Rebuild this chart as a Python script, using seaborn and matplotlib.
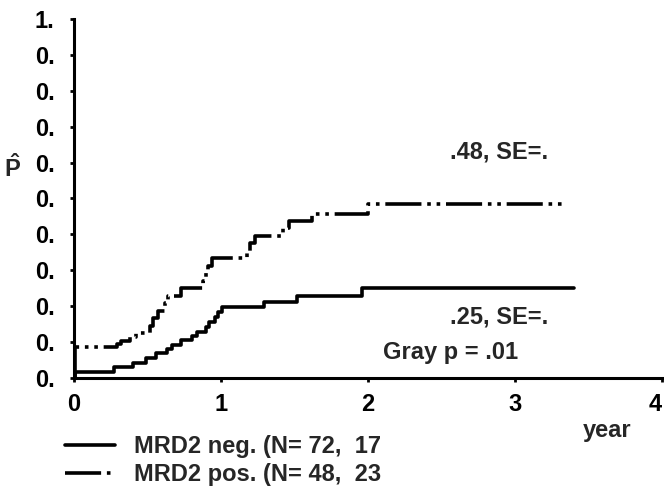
import numpy as np
import pandas as pd
import seaborn as sns
import matplotlib
matplotlib.use("Agg")
import matplotlib.pyplot as plt

# step-curve data (time in years, cumulative incidence)
neg_t = [0.0, 0.01, 0.27, 0.40, 0.49, 0.56, 0.63, 0.67, 0.73, 0.80, 0.84, 0.90, 0.92, 0.96, 0.98, 1.01, 1.29, 1.52, 1.96, 3.40]
neg_p = [0.0, 0.017, 0.031, 0.043, 0.056, 0.070, 0.081, 0.092, 0.106, 0.117, 0.128, 0.142, 0.156, 0.170, 0.185, 0.199, 0.213, 0.228, 0.250, 0.250]
pos_t = [0.0, 0.01, 0.29, 0.32, 0.38, 0.42, 0.52, 0.54, 0.57, 0.62, 0.64, 0.73, 0.88, 0.90, 0.91, 0.94, 1.18, 1.20, 1.23, 1.42, 1.46, 1.62, 2.00, 3.33]
pos_p = [0.0, 0.086, 0.094, 0.104, 0.115, 0.125, 0.146, 0.167, 0.188, 0.208, 0.229, 0.250, 0.271, 0.292, 0.313, 0.333, 0.354, 0.375, 0.396, 0.417, 0.438, 0.458, 0.484, 0.484]

labels = ["MRD2 neg. (N= 72,  17", "MRD2 pos. (N= 48,  23"]
ytick_labels = ["0.", "0.", "0.", "0.", "0.", "0.", "0.", "0.", "0.", "0.", "1."]
xtick_labels = ["0", "1", "2", "3", "4"]

df = pd.concat([
    pd.DataFrame({"t": neg_t, "p": neg_p, "grp": labels[0]}),
    pd.DataFrame({"t": pos_t, "p": pos_p, "grp": labels[1]}),
])

sns.set_style("ticks")
plt.rcParams["font.family"] = ["Liberation Sans", "DejaVu Sans"]
plt.rcParams["font.weight"] = "bold"
plt.rcParams["mathtext.fontset"] = "custom"
plt.rcParams["mathtext.bf"] = "Liberation Sans:bold"
plt.rcParams["mathtext.rm"] = "Liberation Sans:bold"
FS = 17

fig = plt.figure(figsize=(6.64, 4.92), dpi=100)
ax = fig.add_axes([0.1114, 0.2317, 0.8855, 0.7297])

sns.lineplot(data=df, x="t", y="p", style="grp", hue="grp",
             palette=["black", "black"],
             dashes={labels[0]: "", labels[1]: (10, 1.6, 1, 1.6, 1, 1.6)},
             estimator=None, sort=False, drawstyle="steps-post",
             linewidth=2.6, ax=ax)

ax.set_xlim(0, 4)
ax.set_ylim(0, 1)
ax.set_xticks(np.arange(5))
ax.set_xticklabels(xtick_labels)
ax.get_xticklabels()[-1].set_horizontalalignment("right")
ax.set_yticks(np.linspace(0, 1, 11))
ax.set_yticklabels(ytick_labels)
ax.tick_params(axis="both", direction="out", length=3, width=2, labelsize=FS, colors="black")
ax.tick_params(axis="y", pad=11)
ax.tick_params(axis="x", pad=8)
for s in ["top", "right"]:
    ax.spines[s].set_visible(False)
for s in ["left", "bottom"]:
    ax.spines[s].set_linewidth(2.2)
    ax.spines[s].set_color("black")

ax.set_xlabel("")
ax.set_ylabel(r"$\mathbf{\hat{P}}$", rotation=0, fontsize=17, va="center")
ax.yaxis.set_label_coords(-0.105, 0.585)

ax.text(2.56, 0.63, ".48, SE=.", fontsize=FS, fontweight="bold", va="center")
ax.text(2.56, 0.17, ".25, SE=.", fontsize=FS, fontweight="bold", va="center")
ax.text(2.10, 0.072, "Gray p = .01", fontsize=FS, fontweight="bold", va="center")
ax.text(3.46, -0.145, "year", fontsize=FS, fontweight="bold", va="center", clip_on=False)

ax.legend(loc="upper left", bbox_to_anchor=(0.098, 0.115), bbox_transform=fig.transFigure,
          frameon=False, handlelength=2.1, handletextpad=0.8, labelspacing=0.2,
          borderpad=0, borderaxespad=0, prop={"size": FS, "weight": "bold"})

fig.savefig("out.png", dpi=100)
